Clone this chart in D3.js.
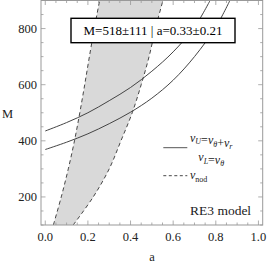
<!DOCTYPE html>
<html>
<head>
<meta charset="utf-8">
<script src="https://cdn.jsdelivr.net/npm/d3@7"></script>
<style>
  body { margin: 0; background: #fff; }
</style>
</head>
<body>
<div id="chart"></div>
<script>
// solid curves, M read at a values
const aUpper = [0, 0.1, 0.2, 0.3, 0.4, 0.5, 0.6, 0.7, 0.773];
const mUpper = [435, 465, 500, 543, 590, 648, 717, 805, 900];
const aLower = [0, 0.1, 0.2, 0.3, 0.4, 0.5, 0.6, 0.7, 0.8, 0.866];
const mLower = [369, 395, 425, 461, 502, 552, 616, 700, 805, 900];

// shaded nodal band: left/right edge a at each M
const mBand = [100, 200, 300, 400, 500, 600, 700, 800, 900];
const aBandLeft = [0.038, 0.075, 0.108, 0.137, 0.162, 0.185, 0.207, 0.230, 0.255];
const aBandRight = [0.131, 0.225, 0.300, 0.355, 0.408, 0.450, 0.487, 0.517, 0.552];

const xTicks = [0, 0.2, 0.4, 0.6, 0.8, 1.0];
const yTicks = [200, 400, 600, 800];
const resultLabel = "M=518±111 | a=0.33±0.21";
const modelLabel = "RE3 model";

const W = 270, H = 265;
const serif = "'Liberation Serif', 'Times New Roman', 'DejaVu Serif', serif";
const svg = d3.select("#chart").append("svg")
    .attr("width", W).attr("height", H)
    .attr("font-family", serif);

const x = d3.scaleLinear().domain([-0.02, 1.02]).range([41, 262.7]);
const y = d3.scaleLinear().domain([100, 900]).range([225, 0.5]);

svg.append("defs").append("clipPath").attr("id", "plotclip")
    .append("rect")
    .attr("x", x.range()[0]).attr("y", y.range()[1])
    .attr("width", x.range()[1] - x.range()[0])
    .attr("height", y.range()[0] - y.range()[1]);

const plot = svg.append("g").attr("clip-path", "url(#plotclip)");

// band
const band = mBand.map((m, i) => ({m: m, l: aBandLeft[i], r: aBandRight[i]}));
plot.append("path")
    .datum(band)
    .attr("fill", "#d9d9d9")
    .attr("d", d3.area().curve(d3.curveCatmullRom)
        .y(d => y(d.m)).x0(d => x(d.l)).x1(d => x(d.r)));

const dashLine = (key) => d3.line().curve(d3.curveCatmullRom)
    .y(d => y(d.m)).x(d => x(d[key]));
["l", "r"].forEach(k => {
    plot.append("path")
        .datum(band)
        .attr("fill", "none")
        .attr("stroke", "#333")
        .attr("stroke-width", 0.9)
        .attr("stroke-dasharray", "4,3")
        .attr("d", dashLine(k));
});

// solid curves
const curve = d3.line().curve(d3.curveCatmullRom).x(d => x(d[0])).y(d => y(d[1]));
[[aUpper, mUpper], [aLower, mLower]].forEach(s => {
    plot.append("path")
        .datum(s[0].map((a, i) => [a, s[1][i]]))
        .attr("fill", "none")
        .attr("stroke", "#444")
        .attr("stroke-width", 1)
        .attr("d", curve);
});

// frame
const frameColor = "#999";
svg.append("rect")
    .attr("x", x.range()[0]).attr("y", y.range()[1])
    .attr("width", x.range()[1] - x.range()[0])
    .attr("height", y.range()[0] - y.range()[1])
    .attr("fill", "none").attr("stroke", frameColor).attr("stroke-width", 1);

// ticks (inside the frame, all four sides)
const xMinor = d3.range(0, 1.0001, 0.05);
const yMinor = d3.range(100, 900.1, 50);
const tickG = svg.append("g").attr("stroke", frameColor).attr("stroke-width", 0.8);
xMinor.forEach(v => {
    const major = xTicks.some(t => Math.abs(t - v) < 1e-6);
    const len = major ? 4.5 : 2.5;
    tickG.append("line").attr("x1", x(v)).attr("x2", x(v))
        .attr("y1", y.range()[0]).attr("y2", y.range()[0] - len);
    tickG.append("line").attr("x1", x(v)).attr("x2", x(v))
        .attr("y1", y.range()[1]).attr("y2", y.range()[1] + len);
});
yMinor.forEach(v => {
    const major = yTicks.includes(v);
    const len = major ? 4.5 : 2.5;
    tickG.append("line").attr("y1", y(v)).attr("y2", y(v))
        .attr("x1", x.range()[0]).attr("x2", x.range()[0] + len);
    tickG.append("line").attr("y1", y(v)).attr("y2", y(v))
        .attr("x1", x.range()[1]).attr("x2", x.range()[1] - len);
});

const ink = "#222";

// tick labels
svg.selectAll(".xl").data(xTicks).enter().append("text")
    .attr("x", d => x(d)).attr("y", 240.5)
    .attr("text-anchor", "middle").attr("font-size", 12.5).attr("fill", ink)
    .text(d => d.toFixed(1));
svg.selectAll(".yl").data(yTicks).enter().append("text")
    .attr("x", 37).attr("y", d => y(d) + 4.3)
    .attr("text-anchor", "end").attr("font-size", 12.5).attr("fill", ink)
    .text(d => d);

// axis titles
svg.append("text").attr("x", 7.5).attr("y", 117.5).attr("fill", ink)
    .attr("text-anchor", "middle").attr("font-size", 12.5).text("M");
svg.append("text").attr("x", 152).attr("y", 261).attr("fill", ink)
    .attr("text-anchor", "middle").attr("font-size", 12.5).text("a");

// result box
svg.append("rect").attr("x", 71).attr("y", 18.3).attr("width", 164).attr("height", 24.4)
    .attr("fill", "#fff").attr("stroke", "#000").attr("stroke-width", 1.4);
svg.append("text").attr("x", 153).attr("y", 35).attr("fill", "#000")
    .attr("text-anchor", "middle").attr("font-size", 13).text(resultLabel);

// legend
const lg = svg.append("g");
lg.append("line").attr("x1", 163.3).attr("x2", 187.3).attr("y1", 147.7).attr("y2", 147.7)
    .attr("stroke", "#555").attr("stroke-width", 1);
lg.append("line").attr("x1", 163.3).attr("x2", 187.3).attr("y1", 175.7).attr("y2", 175.7)
    .attr("stroke", "#333").attr("stroke-width", 0.9).attr("stroke-dasharray", "3,2.5");

function nuText(g, xPos, yPos, parts) {
    const t = g.append("text").attr("x", xPos).attr("y", yPos).attr("fill", ink)
        .attr("font-size", 12).attr("font-style", "italic");
    parts.forEach(p => {
        if (p.sub) {
            t.append("tspan").attr("dy", 2.5).attr("font-size", 8).text(p.sub);
            t.append("tspan").attr("dy", -2.5).text("");
        } else {
            t.append("tspan").attr("font-style", p.upright ? "normal" : "italic").text(p.t);
        }
    });
    return t;
}
nuText(lg, 190, 141.7, [{t: "ν"}, {sub: "U"}, {t: "=", upright: true}, {t: "ν"}, {sub: "θ"},
    {t: "+", upright: true}, {t: "ν"}, {sub: "r"}]);
nuText(lg, 198.3, 161, [{t: "ν"}, {sub: "L"}, {t: "=", upright: true}, {t: "ν"}, {sub: "θ"}]);
const t3 = lg.append("text").attr("x", 190).attr("y", 179).attr("font-size", 12).attr("fill", ink);
t3.append("tspan").attr("font-style", "italic").text("ν");
t3.append("tspan").attr("dy", 2.5).attr("font-size", 8).text("nod");

svg.append("text").attr("x", 190).attr("y", 215).attr("fill", ink)
    .attr("font-size", 13.5).text(modelLabel);
</script>
</body>
</html>
